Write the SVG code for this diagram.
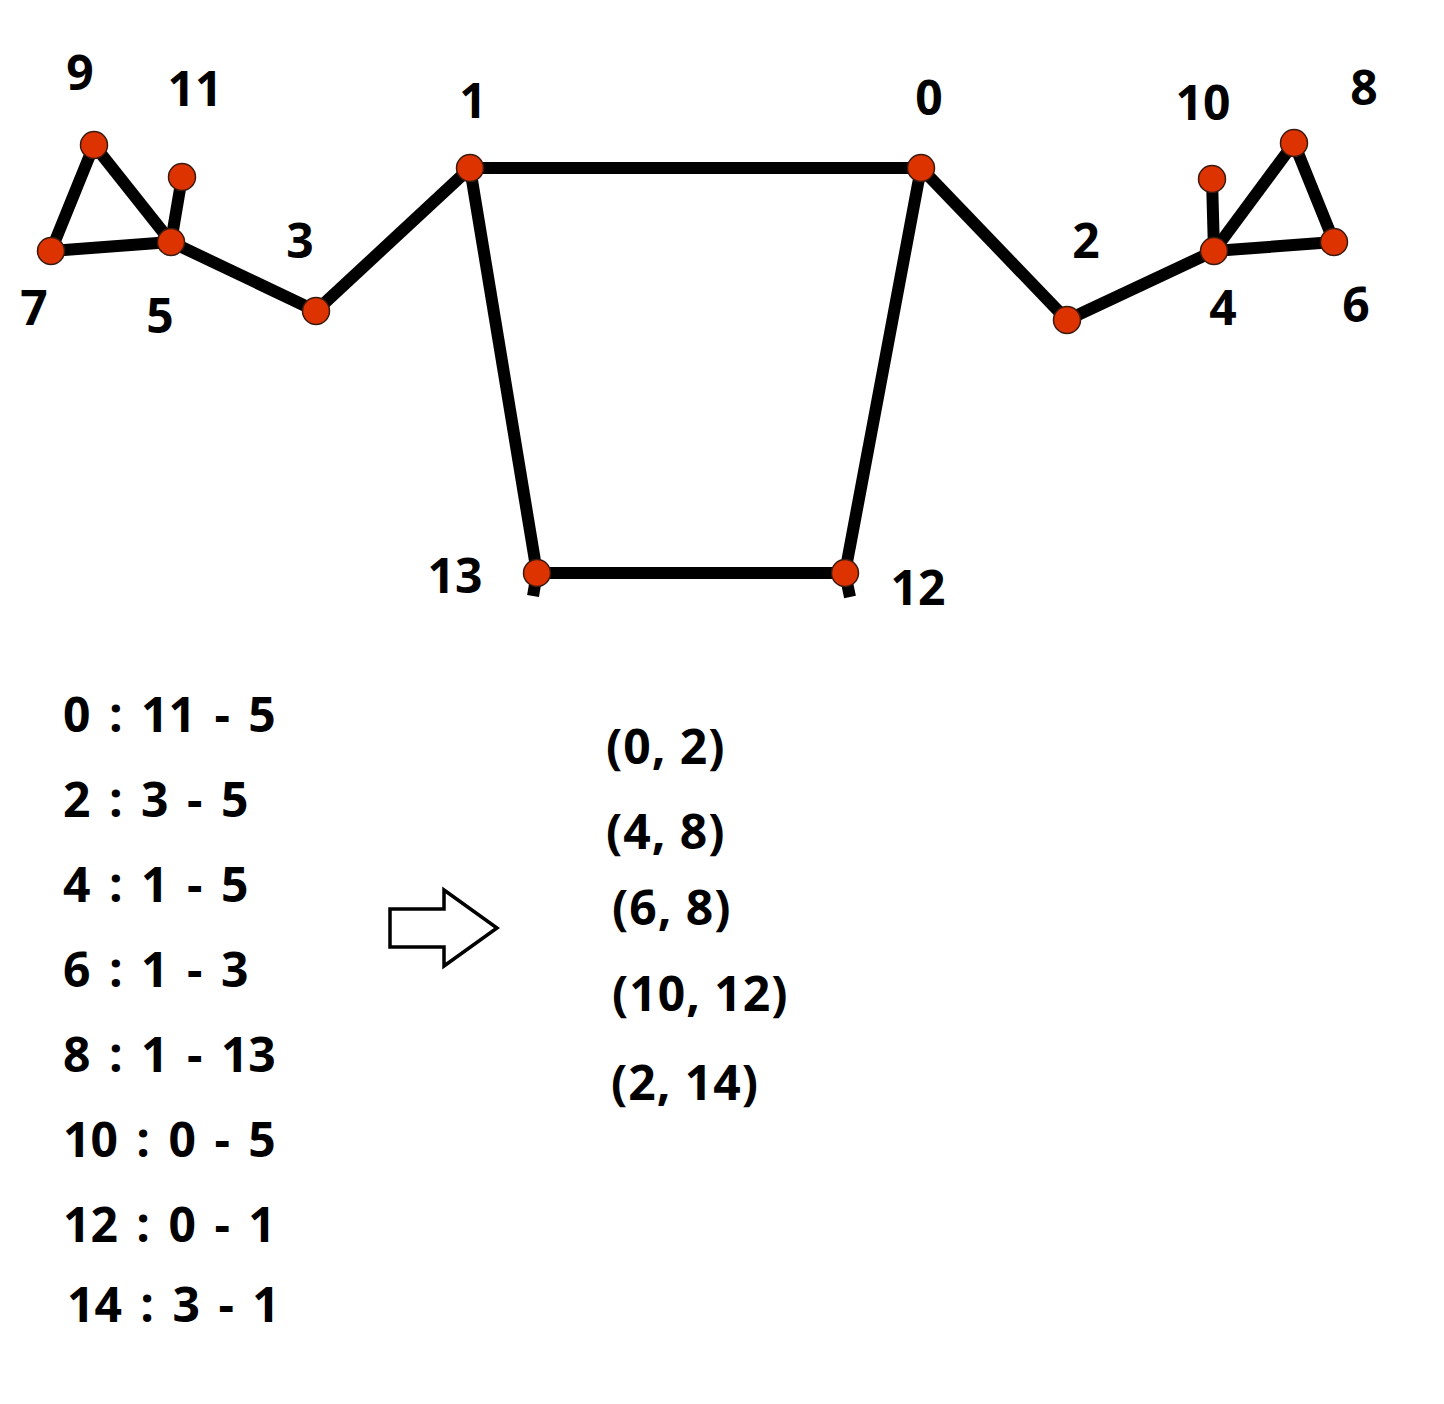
<svg xmlns="http://www.w3.org/2000/svg" width="1444" height="1404" viewBox="0 0 1444 1404">
<style>
.e{stroke:#000;stroke-width:12;fill:none}
.n{fill:#dd3300;stroke:#3a1a10;stroke-width:1.5}
.t{font-family:"Open Sans","Noto Sans",sans-serif;font-weight:700;font-size:48px;fill:#000;white-space:pre}
.l{text-anchor:middle}
.w{word-spacing:6px}
.r{letter-spacing:1px}
</style>
<rect width="1444" height="1404" fill="#fff"/>
<g id="connectors">
<line class="e" x1="94" y1="145" x2="51" y2="251"/>
<line class="e" x1="94" y1="145" x2="171" y2="242"/>
<line class="e" x1="51" y1="251" x2="171" y2="242"/>
<line class="e" x1="171" y1="242" x2="182" y2="177"/>
<line class="e" x1="171" y1="242" x2="316" y2="311"/>
<line class="e" x1="316" y1="311" x2="470" y2="168"/>
<line class="e" x1="470" y1="168" x2="921" y2="168"/>
<line class="e" x1="470" y1="168" x2="537" y2="573"/>
<line class="e" x1="921" y1="168" x2="845" y2="573"/>
<line class="e" x1="537" y1="573" x2="845" y2="573"/>
<line class="e" x1="537" y1="573" x2="533" y2="596"/>
<line class="e" x1="845" y1="573" x2="850" y2="597"/>
<line class="e" x1="921" y1="168" x2="1067" y2="320"/>
<line class="e" x1="1067" y1="320" x2="1214" y2="251"/>
<line class="e" x1="1214" y1="251" x2="1212" y2="179"/>
<line class="e" x1="1214" y1="251" x2="1294" y2="143"/>
<line class="e" x1="1294" y1="143" x2="1334" y2="242"/>
<line class="e" x1="1214" y1="251" x2="1334" y2="242"/>
</g>
<g id="node-0"><circle class="n" cx="921" cy="168" r="13.5"/><text class="t l" x="929" y="115">0</text></g>
<g id="node-1"><circle class="n" cx="470" cy="168" r="13.5"/><text class="t l" x="473" y="118">1</text></g>
<g id="node-2"><circle class="n" cx="1067" cy="320" r="13.5"/><text class="t l" x="1086" y="258">2</text></g>
<g id="node-3"><circle class="n" cx="316" cy="311" r="13.5"/><text class="t l" x="300" y="258">3</text></g>
<g id="node-4"><circle class="n" cx="1214" cy="251" r="13.5"/><text class="t l" x="1223" y="325">4</text></g>
<g id="node-5"><circle class="n" cx="171" cy="242" r="13.5"/><text class="t l" x="160" y="333">5</text></g>
<g id="node-6"><circle class="n" cx="1334" cy="242" r="13.5"/><text class="t l" x="1356" y="322">6</text></g>
<g id="node-7"><circle class="n" cx="51" cy="251" r="13.5"/><text class="t l" x="34" y="325">7</text></g>
<g id="node-8"><circle class="n" cx="1294" cy="143" r="13.5"/><text class="t l" x="1364" y="105">8</text></g>
<g id="node-9"><circle class="n" cx="94" cy="145" r="13.5"/><text class="t l" x="80" y="90">9</text></g>
<g id="node-10"><circle class="n" cx="1212" cy="179" r="13.5"/><text class="t l" x="1203" y="120">10</text></g>
<g id="node-11"><circle class="n" cx="182" cy="177" r="13.5"/><text class="t l" x="195" y="106">11</text></g>
<g id="node-12"><circle class="n" cx="845" cy="573" r="13.5"/><text class="t l" x="918" y="605">12</text></g>
<g id="node-13"><circle class="n" cx="537" cy="573" r="13.5"/><text class="t l" x="455" y="593">13</text></g>
<g id="list-left">
<text class="t w" x="63" y="732">0 : 11 - 5</text>
<text class="t w" x="63" y="817">2 : 3 - 5</text>
<text class="t w" x="63" y="902">4 : 1 - 5</text>
<text class="t w" x="63" y="987">6 : 1 - 3</text>
<text class="t w" x="63" y="1072">8 : 1 - 13</text>
<text class="t w" x="63" y="1157">10 : 0 - 5</text>
<text class="t w" x="63" y="1242">12 : 0 - 1</text>
<text class="t w" x="67" y="1322">14 : 3 - 1</text>
</g>
<g id="arrow">
<polygon points="390,909 444,909 444,890 497,928 444,966 444,947 390,947" fill="#fff" stroke="#000" stroke-width="3.5" stroke-linejoin="miter"/>
</g>
<g id="list-right">
<text class="t r" x="606" y="764">(0, 2)</text>
<text class="t r" x="606" y="849">(4, 8)</text>
<text class="t r" x="612" y="925">(6, 8)</text>
<text class="t r" x="612" y="1011">(10, 12)</text>
<text class="t r" x="611" y="1100">(2, 14)</text>
</g>
</svg>
